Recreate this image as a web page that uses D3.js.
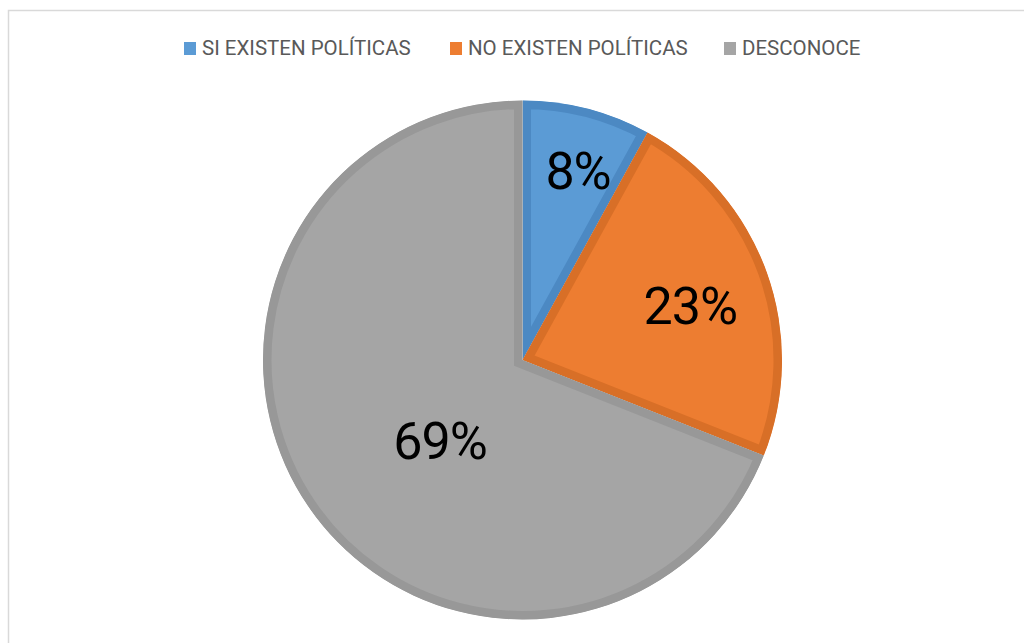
<!DOCTYPE html>
<html>
<head>
<meta charset="utf-8">
<script src="https://cdn.jsdelivr.net/npm/d3@7"></script>
<style>
  body { margin: 0; background: #fff; }
  svg { display: block; }
</style>
</head>
<body>
<div class="canvas"></div>
<script>
const categories = ['SI EXISTEN POLÍTICAS', 'NO EXISTEN POLÍTICAS', 'DESCONOCE'];
const values = [8, 23, 69];
const fills = ['#5B9BD5', '#ED7D31', '#A5A5A5'];
const borders = ['#4C89C3', '#D86F27', '#989898'];
// label placement (Excel "best fit"): radius fraction and angle nudge in radians
const labelRadius = [0.763, 0.68, 0.443];
const labelShift = [0.033, 0.03, -0.173];

const width = 1024;
const height = 643;
const cx = 522.5, cy = 360, radius = 259.5;

const svg = d3.select('.canvas')
	.append('svg')
	.attr('width', width)
	.attr('height', height);

svg.append('rect')
	.attr('x', 8.5)
	.attr('y', 10.5)
	.attr('width', width)
	.attr('height', height)
	.attr('fill', 'none')
	.attr('stroke', '#D9D9D9')
	.attr('stroke-width', 1.5);

const data = categories.map((c, i) => ({ name: c, value: values[i], i }));

const pie = d3.pie()
	.sort(null)
	.value(d => d.value);

const arc = d3.arc()
	.innerRadius(0)
	.outerRadius(radius);

const arcs = pie(data);

const graph = svg.append('g')
	.attr('transform', `translate(${cx},${cy})`);

const defs = svg.append('defs');
defs.selectAll('clipPath')
	.data(arcs)
	.enter()
	.append('clipPath')
	.attr('id', (d, i) => 'clip' + i)
	.append('path')
	.attr('d', arc);

graph.selectAll('path.slice')
	.data(arcs)
	.enter()
	.append('path')
	.attr('class', 'slice')
	.attr('d', arc)
	.attr('fill', d => fills[d.data.i])
	.attr('stroke', d => borders[d.data.i])
	.attr('stroke-width', 17)
	.attr('stroke-linejoin', 'miter')
	.attr('clip-path', (d, i) => `url(#clip${i})`);

graph.selectAll('text.pct')
	.data(arcs)
	.enter()
	.append('text')
	.attr('class', 'pct')
	.attr('transform', d => {
		const r = radius * labelRadius[d.data.i];
		const a = (d.startAngle + d.endAngle) / 2 + labelShift[d.data.i];
		return `translate(${r * Math.sin(a)},${-r * Math.cos(a)})`;
	})
	.attr('text-anchor', 'middle')
	.attr('dy', '0.36em')
	.attr('font-family', 'Roboto, sans-serif')
	.attr('font-weight', 400)
	.attr('letter-spacing', -1)
	.attr('font-size', 52)
	.attr('fill', '#000')
	.text(d => d.data.value + '%');

// legend
const legendX = [184, 450, 724];
const legend = svg.append('g');
const items = legend.selectAll('g')
	.data(data)
	.enter()
	.append('g')
	.attr('transform', d => `translate(${legendX[d.i]},42)`);

items.append('rect')
	.attr('width', 12)
	.attr('height', 13)
	.attr('fill', d => fills[d.i]);

items.append('text')
	.attr('x', 18)
	.attr('y', 13)
	.attr('font-family', 'Roboto, sans-serif')
	.attr('font-size', 20.5)
	.attr('fill', '#595959')
	.text(d => d.name);
</script>
</body>
</html>
